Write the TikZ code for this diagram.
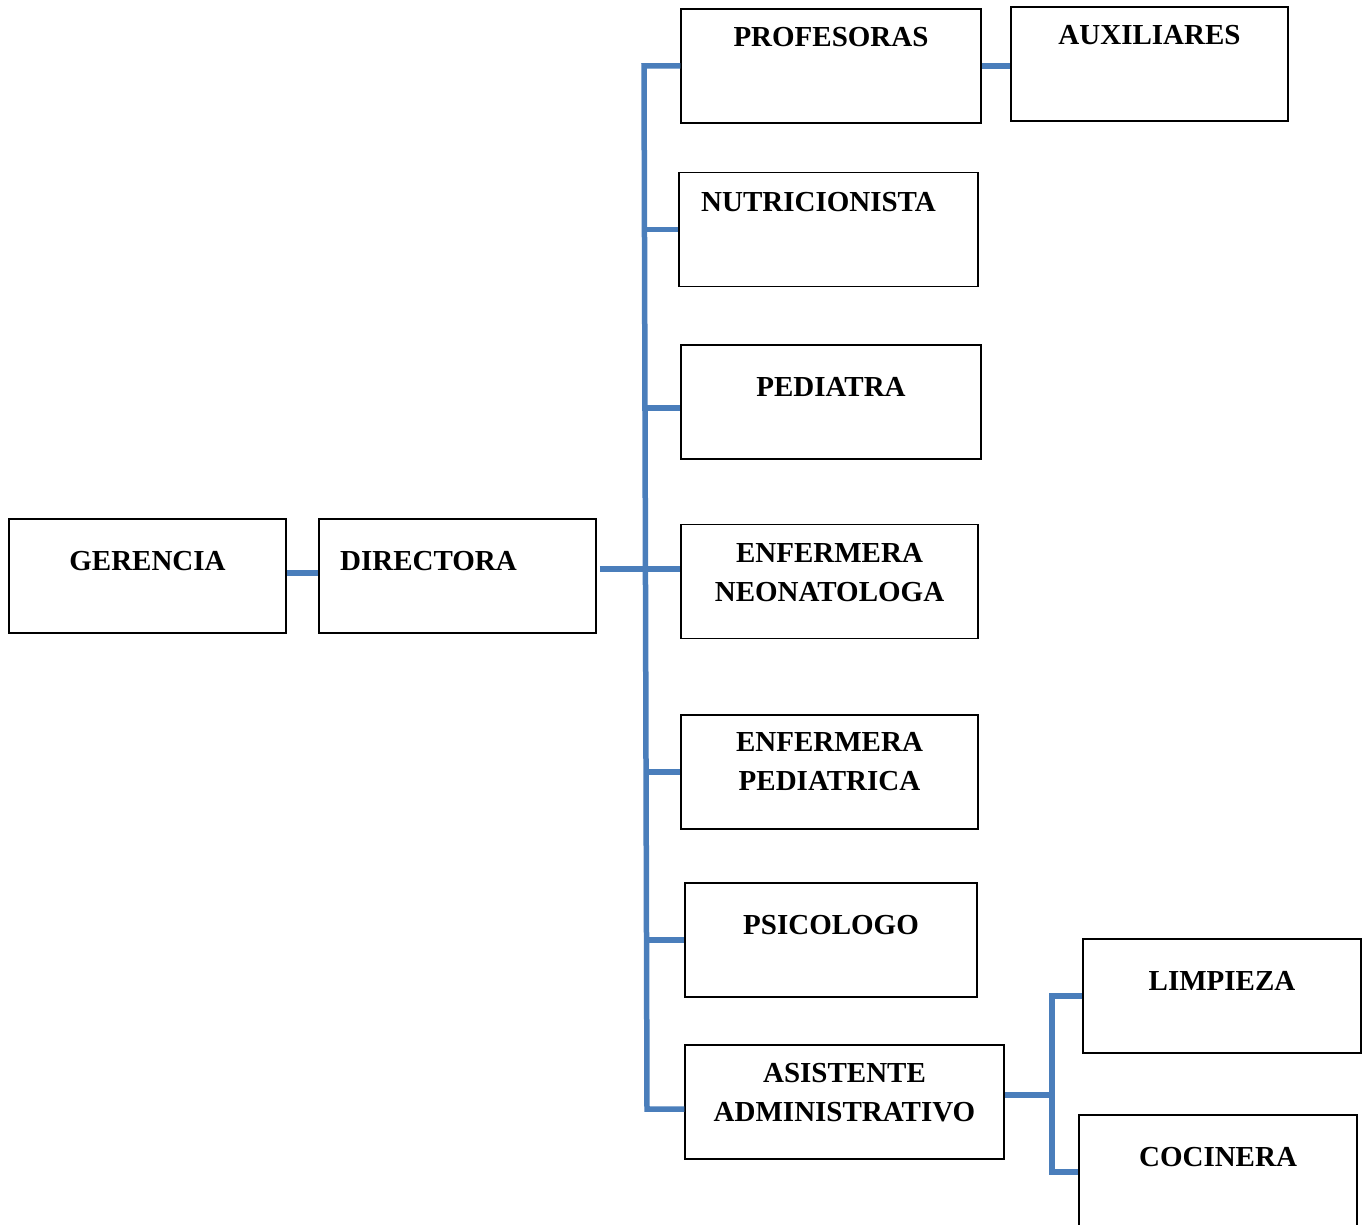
\documentclass[tikz,border=0pt]{standalone}
\usepackage{fontspec}
\setmainfont{Liberation Serif}
\usepackage{tikz}
\usetikzlibrary{calc, positioning}
\definecolor{linkblue}{HTML}{4A7EBB}

\begin{document}
\begin{tikzpicture}[
    x=1pt, y=-1pt,
    font=\fontsize{29}{39}\selectfont\bfseries,
    box/.style={draw, line width=1.5pt, minimum height=114pt, minimum width=#1,
                inner sep=0pt},
    lbl/.style={anchor=north, inner sep=0pt, align=center},
    link/.style={draw=linkblue, line width=5.5pt},
]
\useasboundingbox (0,0) rectangle (1368,1225);

% ── Left part ────────────────────────────────────────────────
\node[box=277pt, label={[lbl, yshift=-33pt]north:GERENCIA}] (ger) at (147.5,576) {};
\node[box=277pt, label={[lbl, yshift=-33pt, xshift=-29pt]north:DIRECTORA}] (dir) at (457.5,576) {};

% ── Column of staff ──────────────────────────────────────────
\node[box=300pt, label={[lbl, yshift=-19pt]north:PROFESORAS}] (prof) at (831,66) {};
\node[box=277pt, label={[lbl, yshift=-19pt]north:AUXILIARES}] (aux) at (1149.5,64) {};
\node[box=299pt, label={[lbl, yshift=-20pt, xshift=-10pt]north:NUTRICIONISTA}] (nutri) at (828.5,229.5) {};
\node[box=300pt, label={[lbl, yshift=-33pt]north:PEDIATRA}] (ped) at (831,402) {};
\node[box=297pt, label={[lbl, yshift=-19pt]north:ENFERMERA\\NEONATOLOGA}] (neo) at (829.5,581.5) {};
\node[box=297pt, label={[lbl, yshift=-18pt]north:ENFERMERA\\PEDIATRICA}] (enfped) at (829.5,772) {};
\node[box=292pt, label={[lbl, yshift=-33pt]north:PSICOLOGO}] (psi) at (831,940) {};
\node[box=319pt, label={[lbl, yshift=-19pt]north:ASISTENTE\\ADMINISTRATIVO}] (asis) at (844.5,1102) {};

% ── Services ─────────────────────────────────────────────────
\node[box=278pt, label={[lbl, yshift=-33pt]north:LIMPIEZA}] (limp) at (1222,996) {};
\node[box=278pt, label={[lbl, yshift=-33pt]north:COCINERA}] (coc) at (1218,1172) {};

% ── Connectors ───────────────────────────────────────────────
\coordinate (trunk) at (644,569);
\coordinate (fork) at (1052,1095);

\draw[link] ([yshift=3pt]ger.east) -- ([yshift=3pt]dir.west);
\draw[link] ([xshift=3pt, yshift=7pt]dir.east) -- ([yshift=12.5pt]neo.west);
\draw[link] (prof.west) -- (prof.west -| trunk) -- ([xshift=3pt, yshift=-7pt]asis.west -| trunk)
    -- ([yshift=-7pt]asis.west);
\draw[link] (trunk |- nutri.west) -- (nutri.west);
\draw[link] ([xshift=1pt, yshift=-6pt]ped.west -| trunk) -- ([yshift=-6pt]ped.west);
\draw[link] ([xshift=2pt]enfped.west -| trunk) -- (enfped.west);
\draw[link] ([xshift=2pt]psi.west -| trunk) -- (psi.west);
\draw[link] (prof.east) -- (prof.east -| aux.west);

\draw[link] ([yshift=7pt]asis.east) -- ([yshift=7pt]asis.east -| fork);
\draw[link] (limp.west) -- (limp.west -| fork) -- (coc.west -| fork) -- (coc.west);

\end{tikzpicture}
\end{document}
